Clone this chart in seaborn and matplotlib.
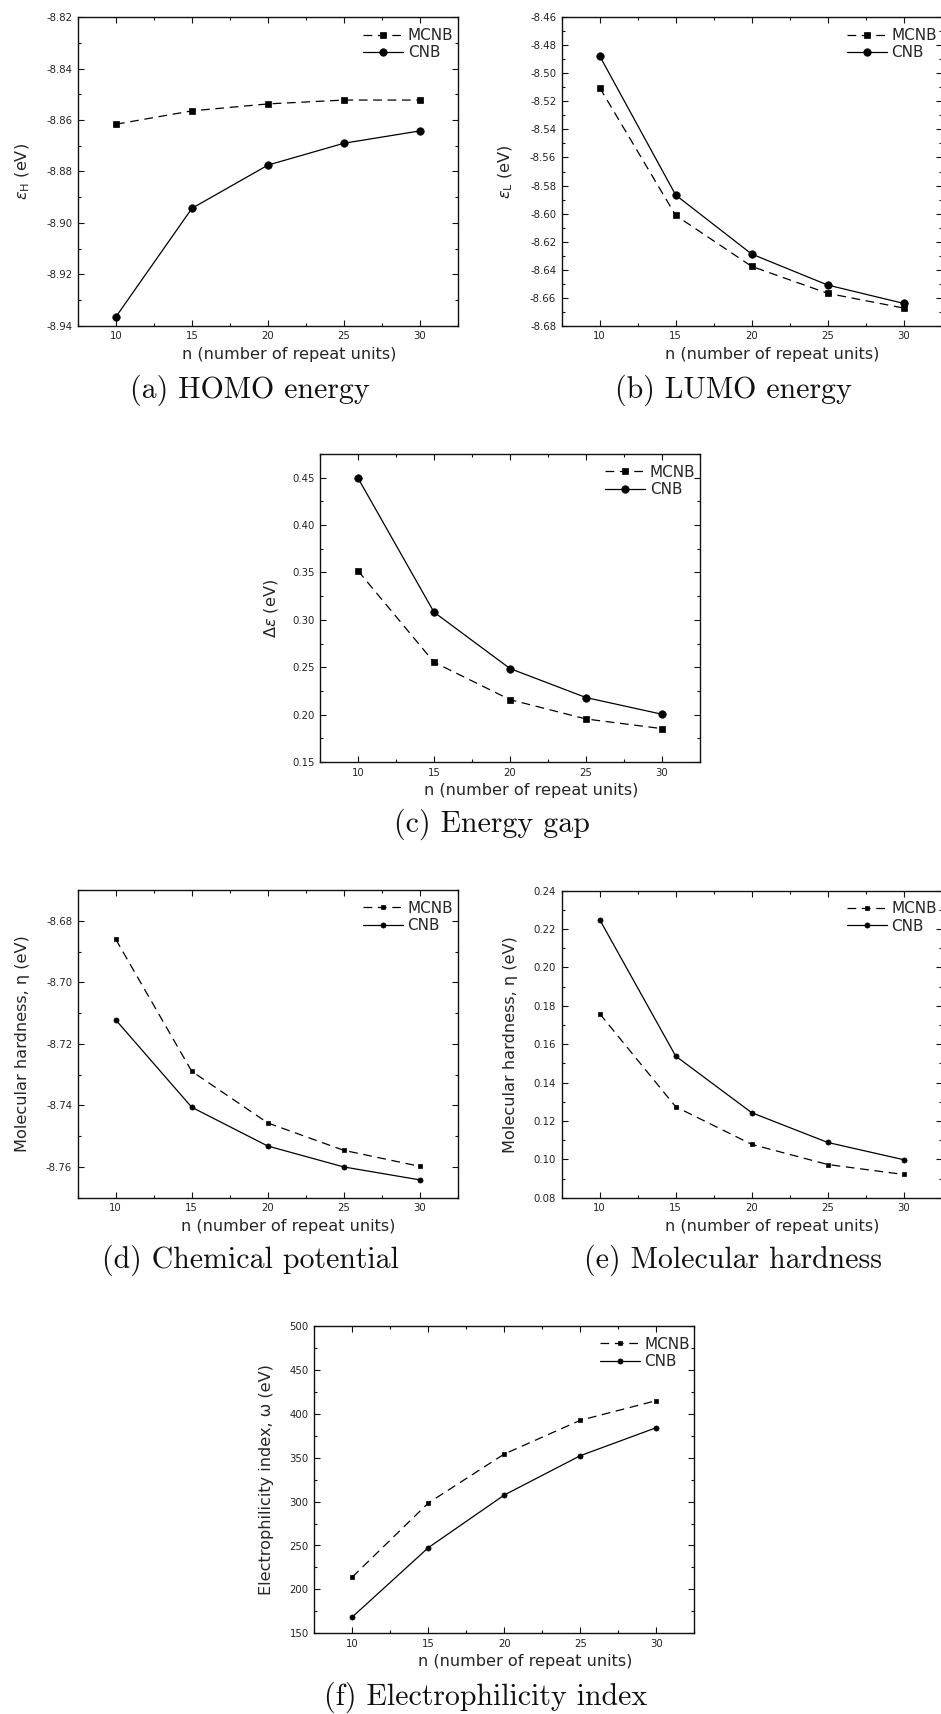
import matplotlib
matplotlib.use("Agg")
import matplotlib.pyplot as plt
from matplotlib.ticker import MultipleLocator, FormatStrFormatter
import seaborn as sns
import pandas as pd

# ---------------- data ----------------
n_units = [10, 15, 20, 25, 30]
series_names = ["MCNB", "CNB"]

homo_mcnb = [-8.8616, -8.8564, -8.8537, -8.8522, -8.8522]
homo_cnb = [-8.9365, -8.8943, -8.8775, -8.8690, -8.8642]

lumo_mcnb = [-8.5102, -8.6013, -8.6377, -8.6569, -8.6674]
lumo_cnb = [-8.4876, -8.5868, -8.6289, -8.6510, -8.6641]

gap_mcnb = [0.3518, 0.2553, 0.2158, 0.1954, 0.1852]
gap_cnb = [0.4496, 0.3081, 0.2486, 0.2180, 0.2004]

chem_mcnb = [-8.6860, -8.7289, -8.7457, -8.7546, -8.7598]
chem_cnb = [-8.7122, -8.7406, -8.7532, -8.7600, -8.7642]

hard_mcnb = [0.1759, 0.1274, 0.1078, 0.0973, 0.0921]
hard_cnb = [0.2249, 0.1538, 0.1243, 0.1088, 0.0998]

elec_mcnb = [214.1, 298.4, 354.2, 392.6, 415.0]
elec_cnb = [168.6, 247.5, 307.5, 352.3, 384.2]

x_label = "n (number of repeat units)"
y_labels = [
    r"$\varepsilon_{\mathrm{H}}$ (eV)",
    r"$\varepsilon_{\mathrm{L}}$ (eV)",
    r"$\mathit{\Delta\varepsilon}$ (eV)",
    "Molecular hardness, η (eV)",
    "Molecular hardness, η (eV)",
    "Electrophilicity index, ω (eV)",
]
captions = [
    "(a) HOMO energy",
    "(b) LUMO energy",
    "(c) Energy gap",
    "(d) Chemical potential",
    "(e) Molecular hardness",
    "(f) Electrophilicity index",
]

# ---------------- style ----------------
sns.set_theme(style="ticks")
plt.rcParams.update({
    "font.family": ["DejaVu Sans"],
    "mathtext.fontset": "dejavusans",
    "axes.unicode_minus": False,
    "xtick.direction": "in",
    "ytick.direction": "in",
    "xtick.top": True,
    "ytick.right": True,
    "xtick.major.size": 4,
    "ytick.major.size": 4,
    "xtick.minor.size": 2.2,
    "ytick.minor.size": 2.2,
    "xtick.major.width": 0.8,
    "ytick.major.width": 0.8,
    "xtick.minor.width": 0.8,
    "ytick.minor.width": 0.8,
    "axes.linewidth": 1.0,
    "axes.edgecolor": "#111111",
    "xtick.color": "#111111",
    "ytick.color": "#111111",
    "xtick.labelcolor": "#222222",
    "ytick.labelcolor": "#222222",
})

fig = plt.figure(figsize=(9.41, 17.14), dpi=100)

W, H = 941.0, 1714.0


def rect(left, top, right, bottom):
    return [left / W, 1 - bottom / H, (right - left) / W, (bottom - top) / H]


panel_rects = [
    rect(78, 17.3, 458, 325.7),
    rect(561.7, 17.3, 941.7, 325.7),
    rect(320, 454, 700, 762),
    rect(77.7, 890, 457.7, 1197.7),
    rect(561.7, 890.7, 941.7, 1197.7),
    rect(314.3, 1326, 694.3, 1633.3),
]

panel_data = [
    (homo_mcnb, homo_cnb),
    (lumo_mcnb, lumo_cnb),
    (gap_mcnb, gap_cnb),
    (chem_mcnb, chem_cnb),
    (hard_mcnb, hard_cnb),
    (elec_mcnb, elec_cnb),
]

ylims = [(-8.94, -8.82), (-8.68, -8.46), (0.15, 0.475), (-8.77, -8.67), (0.08, 0.24), (150, 500)]
y_major = [0.02, 0.02, 0.05, 0.02, 0.02, 50]
y_fmt = ["%.2f", "%.2f", "%.2f", "%.2f", "%.2f", "%d"]
big_markers = [True, True, True, False, False, False]
ylabel_x = [-0.122, -0.122, -0.105, -0.125, -0.115, -0.105]

caption_pos = [(250, 390), (733, 390), (492, 824), (250, 1260), (733, 1260), (486, 1697)]

for i in range(6):
    ax = fig.add_axes(panel_rects[i])
    mcnb, cnb = panel_data[i]
    big = big_markers[i]
    ms_sq = 5.0 if big else 3.4
    ms_ci = 5.4 if big else 3.7
    df_m = pd.DataFrame({"n": n_units, "value": mcnb})
    df_c = pd.DataFrame({"n": n_units, "value": cnb})
    sns.lineplot(data=df_m, x="n", y="value", ax=ax, color="black",
                 linestyle=(0, (7, 4.5)), linewidth=0.9, marker="s",
                 markersize=ms_sq, markeredgecolor="black", markeredgewidth=0.5,
                 errorbar=None, label=series_names[0])
    sns.lineplot(data=df_c, x="n", y="value", ax=ax, color="black",
                 linestyle="-", linewidth=0.9, marker="o",
                 markersize=ms_ci, markeredgecolor="black", markeredgewidth=0.5,
                 errorbar=None, label=series_names[1])

    ax.set_xlim(7.5, 32.5)
    ax.set_ylim(*ylims[i])
    ax.xaxis.set_major_locator(MultipleLocator(5))
    ax.xaxis.set_minor_locator(MultipleLocator(2.5))
    ax.yaxis.set_major_locator(MultipleLocator(y_major[i]))
    ax.yaxis.set_minor_locator(MultipleLocator(y_major[i] / 2))
    ax.yaxis.set_major_formatter(FormatStrFormatter(y_fmt[i]))
    ax.tick_params(which="both", top=True, right=True, direction="in")
    ax.tick_params(axis="both", which="major", labelsize=7.3, pad=4)

    ax.set_xlabel(x_label, fontsize=11.6)
    ax.xaxis.set_label_coords(0.555, -0.068)
    ax.set_ylabel(y_labels[i], fontsize=11.6)
    ax.yaxis.set_label_coords(ylabel_x[i], 0.5)

    ax.legend(loc="upper right", bbox_to_anchor=(1.0, 0.98), frameon=False,
              fontsize=11, handlelength=2.6, handletextpad=0.3,
              labelspacing=0.15, borderaxespad=0.1, borderpad=0.2)

    cx, cy = caption_pos[i]
    fig.text(cx / W, 1 - cy / H, captions[i], ha="center", va="center",
             fontsize=21.5, family="cmr10", color="#111111")

fig.savefig("out.png", dpi=100)
